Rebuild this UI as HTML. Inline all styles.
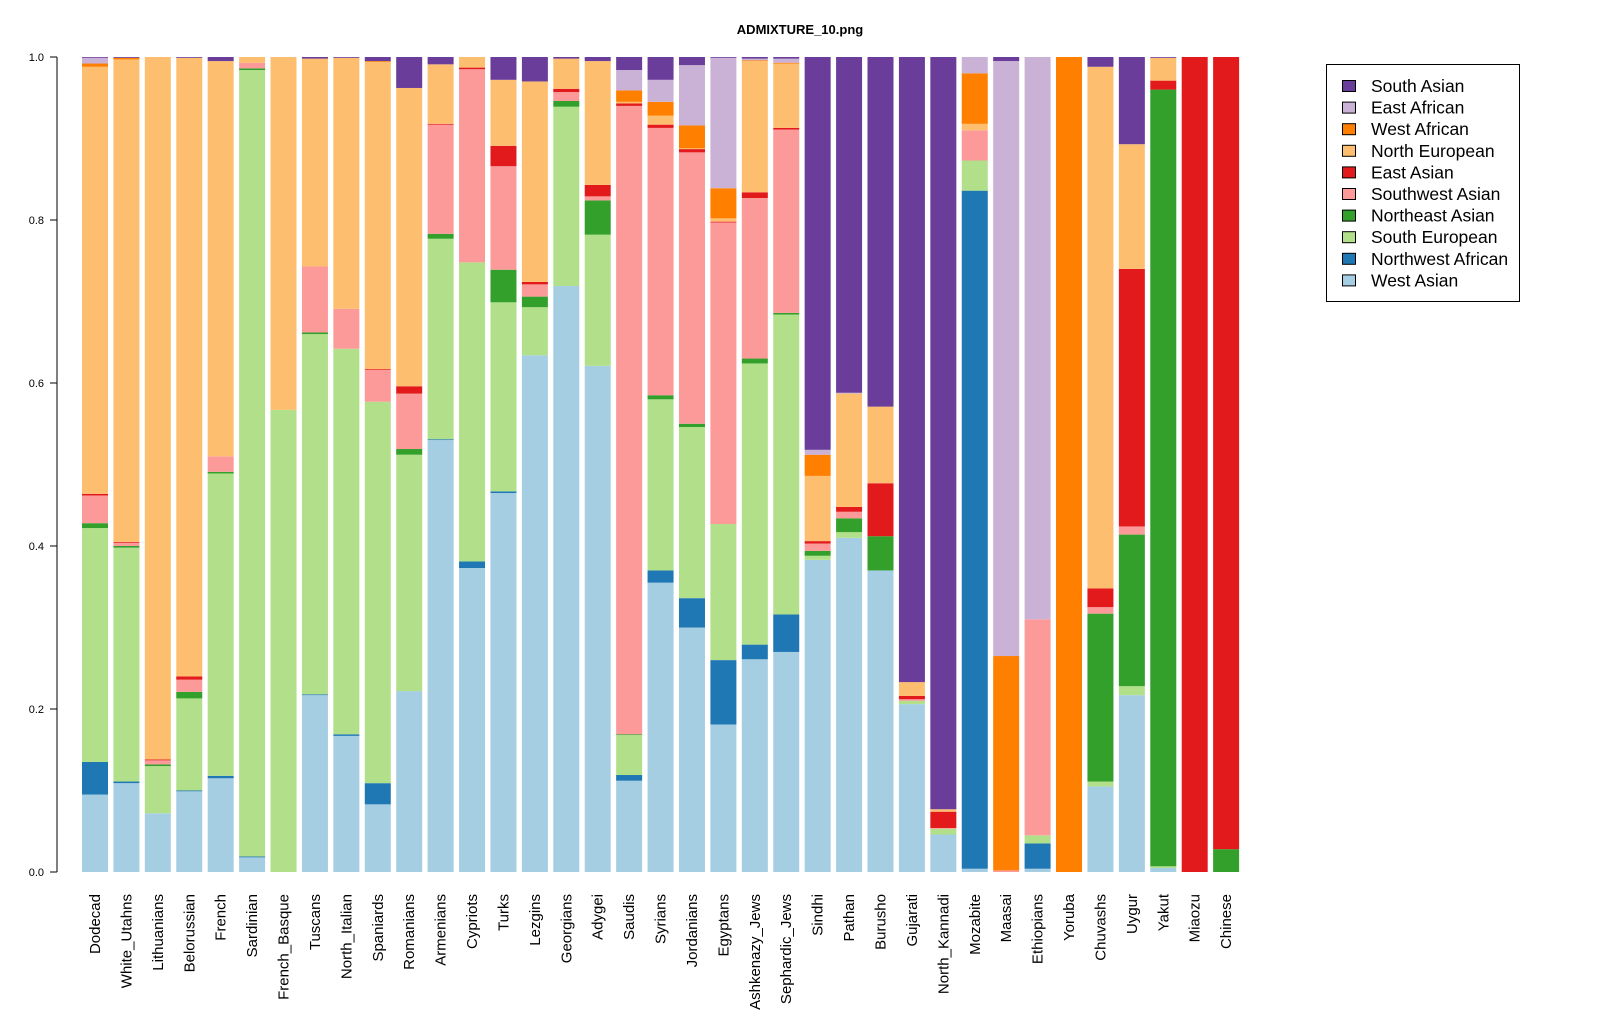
<!DOCTYPE html>
<html><head><meta charset="utf-8">
<style>
body{margin:0;background:#fff;}
svg{display:block;font-family:"Liberation Sans",Arial,sans-serif;}
</style></head>
<body>
<svg id="chart" width="1600" height="1024">
<text x="800" y="34" text-anchor="middle" font-size="13" font-weight="bold">ADMIXTURE_10.png</text>
</svg>
<script>
const categories=["Dodecad","White_Utahns","Lithuanians","Belorussian","French","Sardinian","French_Basque","Tuscans","North_Italian","Spaniards","Romanians","Armenians","Cypriots","Turks","Lezgins","Georgians","Adygei","Saudis","Syrians","Jordanians","Egyptans","Ashkenazy_Jews","Sephardic_Jews","Sindhi","Pathan","Burusho","Gujarati","North_Kannadi","Mozabite","Maasai","Ethiopians","Yoruba","Chuvashs","Uygur","Yakut","Miaozu","Chinese"];
const westAsian=[.095,.109,.072,.099,.115,.018,0,.217,.167,.083,.222,.53,.373,.465,.634,.719,.621,.112,.355,.3,.181,.261,.27,.383,.41,.37,.206,.046,.004,0,.004,0,.105,.217,.005,0,0];
const northwestAfrican=[.04,.002,0,.001,.003,.001,0,.001,.002,.026,0,.001,.008,.002,0,0,0,.007,.015,.036,.079,.018,.046,0,0,0,0,0,.832,0,.031,0,0,0,0,0,0];
const southEuropean=[.287,.287,.058,.113,.371,.965,.567,.442,.473,.468,.29,.246,.367,.232,.059,.22,.161,.049,.21,.21,.167,.345,.368,.005,.007,0,.004,.007,.037,0,.01,0,.006,.011,.002,0,0];
const northeastAsian=[.006,.002,.002,.008,.002,.002,0,.002,0,0,.007,.006,0,.04,.013,.007,.042,.001,.005,.004,0,.006,.002,.006,.017,.042,0,0,0,0,0,0,.206,.186,.953,0,.028];
const southwestAsian=[.034,.004,.005,.015,.019,.007,0,.081,.049,.039,.068,.134,.237,.127,.015,.011,.005,.771,.328,.333,.37,.197,.225,.009,.008,0,.002,.001,.037,.002,.265,0,.008,.01,0,0,0];
const eastAsian=[.002,.001,.001,.004,0,0,0,0,0,.001,.009,.001,.002,.025,.003,.004,.014,.003,.004,.004,.001,.007,.002,.003,.006,.065,.004,.02,0,0,0,0,.023,.316,.011,1,.972];
const northEuropean=[.524,.592,.862,.759,.485,.007,.433,.255,.308,.377,.366,.073,.013,.081,.246,.037,.152,.002,.011,.001,.004,.161,.079,.08,.139,.094,.017,.003,.008,0,0,0,.64,.153,.028,0,0];
const westAfrican=[.004,.002,0,0,0,0,0,0,0,.001,0,0,0,0,0,0,0,.014,.017,.028,.037,.001,.001,.026,0,0,0,0,.062,.263,0,1,0,0,0,0,0];
const eastAfrican=[.007,0,0,0,0,0,0,0,0,0,0,0,0,0,0,0,0,.025,.027,.074,.16,.002,.005,.006,.001,0,0,0,.02,.73,.69,0,0,0,0,0,0];
const southAsian=[.001,.001,0,.001,.005,.002,0,.002,.001,.005,.038,.009,0,.028,.03,.002,.005,.016,.028,.01,.001,.002,.003,.482,.412,.429,.767,.923,0,.005,0,0,.012,.107,.001,0,0];
const seriesNames=["West Asian","Northwest African","South European","Northeast Asian","Southwest Asian","East Asian","North European","West African","East African","South Asian"];
const seriesData=[westAsian,northwestAfrican,southEuropean,northeastAsian,southwestAsian,eastAsian,northEuropean,westAfrican,eastAfrican,southAsian];
const seriesColors=["#A6CEE3","#1F78B4","#B2DF8A","#33A02C","#FB9A99","#E31A1C","#FDBF6F","#FF7F00","#CAB2D6","#6A3D9A"];
const yTicks=["0.0","0.2","0.4","0.6","0.8","1.0"];

const NS="http://www.w3.org/2000/svg";
const svg=document.getElementById('chart');
const y0=872,y1=57,x0=82,step=31.42,bw=26;
const yS=v=>y0-Math.min(1,v)*(y0-y1);
const xS=i=>x0+i*step;
function mk(t,a){const e=document.createElementNS(NS,t);for(const k in a)e.setAttribute(k,a[k]);svg.appendChild(e);return e;}

// axis
let ax=mk('line',{x1:57,x2:57,y1:yS(0),y2:yS(1),stroke:'#000','stroke-width':1});


yTicks.forEach(t=>{
  const v=parseFloat(t);
  const tk=mk('line',{x1:50,x2:57,y1:yS(v),y2:yS(v),stroke:'#000'});
  
  
  const tx=mk('text',{x:44,y:yS(v)+4,'text-anchor':'end','font-size':11});
  tx.textContent=t;
  
  
});

categories.forEach((c,i)=>{
  let cum=0;
  seriesData.forEach((s,k)=>{
    const v=s[i];
    if(v>0){
      const top=Math.min(1,cum+v);
      const r=mk('rect',{x:xS(i),y:yS(top),width:bw,height:Math.max(0,yS(cum)-yS(top)),fill:seriesColors[k]});
      
      
    }
    cum+=v;
  });
  const cx=xS(i)+bw/2;
  const t=mk('text',{x:0,y:0,'text-anchor':'end','font-size':15,transform:`translate(${cx+5},894) rotate(-90)`});
  t.textContent=c;
  
  
});

// legend
const lg=mk('rect',{x:1326.5,y:64.5,width:193,height:237,fill:'none',stroke:'#000','stroke-width':1});


for(let j=0;j<10;j++){
  const k=9-j;
  const yy=86+j*21.6;
  const sw=mk('rect',{x:1342.5,y:yy-5.5,width:13,height:11,fill:seriesColors[k],stroke:'#000','stroke-width':1});
  
  
  const lt=mk('text',{x:1371,y:yy+6,'font-size':17.5});
  lt.textContent=seriesNames[k];
  
  
}
</script>
</body></html>
